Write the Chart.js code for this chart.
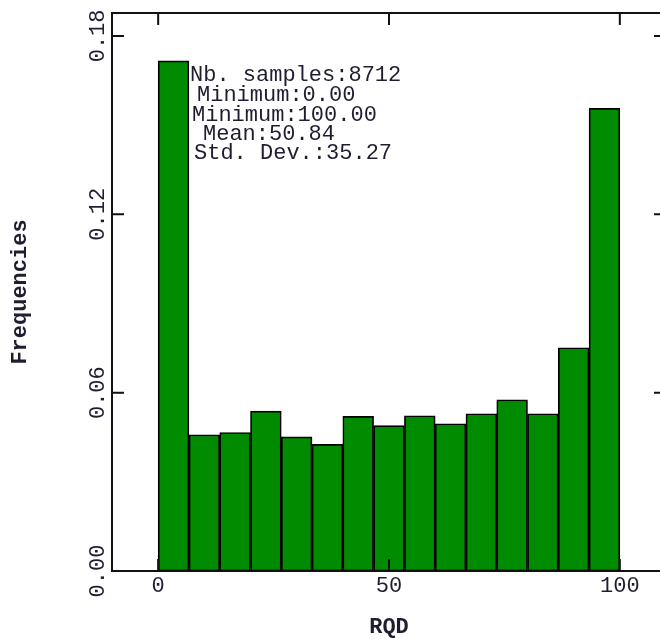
<!DOCTYPE html>
<html>
<head>
<meta charset="utf-8">
<script src="https://cdn.jsdelivr.net/npm/chart.js@4"></script>
<style>
  html, body { margin: 0; padding: 0; background: #fff; overflow: hidden; }
  #wrap { width: 670px; height: 639px; }
</style>
</head>
<body>
<div id="wrap"><canvas id="histo" width="670" height="639"></canvas></div>
<script>
// histogram bins (RQD, 15 classes of width 6.67) and frequencies
var binCenters = [3.33, 10, 16.67, 23.33, 30, 36.67, 43.33, 50, 56.67, 63.33, 70, 76.67, 83.33, 90, 96.67];
var frequencies = [0.1716, 0.0458, 0.0466, 0.0538, 0.0451, 0.0426, 0.0520, 0.0489, 0.0522, 0.0495, 0.0529, 0.0576, 0.0529, 0.0751, 0.1556];

var xTicks = [0, 50, 100];
var yTicks = [0, 0.06, 0.12, 0.18];

var statLines = ["Nb. samples:8712", "Minimum:0.00", "Minimum:100.00", "Mean:50.84", "Std. Dev.:35.27"];

var monoFont = "'Liberation Mono', 'DejaVu Sans Mono', monospace";
var textColor = "#1e1e30";

// frame with inward ticks, y tick labels and the stats box
var framePlugin = {
  id: "frame",
  afterDatasetsDraw: function (chart) {
    var ctx = chart.ctx;
    var a = chart.chartArea;
    var xs = chart.scales.x, ys = chart.scales.y;
    var tl = 12;
    ctx.save();
    ctx.strokeStyle = "#111";
    ctx.lineWidth = 2;
    ctx.strokeRect(a.left, a.top, a.right - a.left, a.bottom - a.top);
    ctx.beginPath();
    xTicks.forEach(function (v) {
      var px = xs.getPixelForValue(v);
      ctx.moveTo(px, a.bottom); ctx.lineTo(px, a.bottom - tl);
      ctx.moveTo(px, a.top); ctx.lineTo(px, a.top + tl);
    });
    yTicks.forEach(function (v) {
      var py = ys.getPixelForValue(v);
      ctx.moveTo(a.left, py); ctx.lineTo(a.left + tl, py);
      ctx.moveTo(a.right, py); ctx.lineTo(a.right - tl, py);
    });
    ctx.stroke();

    // y tick labels, rotated
    ctx.fillStyle = textColor;
    ctx.font = "22px " + monoFont;
    ctx.textAlign = "center";
    ctx.textBaseline = "middle";
    ys.ticks.forEach(function (t) {
      var py = ys.getPixelForValue(t.value);
      ctx.save();
      ctx.translate(a.left - 14, py);
      ctx.rotate(-Math.PI / 2);
      ctx.fillText(t.value.toFixed(2), 0, 0);
      ctx.restore();
    });

    // statistics
    ctx.textAlign = "left";
    ctx.textBaseline = "alphabetic";
    var offs = [190, 197, 192, 203, 194];
    var base = [81, 101, 121, 140, 159];
    statLines.forEach(function (s, i) {
      ctx.fillText(s, offs[i], base[i]);
    });
    ctx.restore();
  }
};

new Chart("histo", {
  type: "bar",
  data: {
    datasets: [{
      data: binCenters.map(function (c, i) { return {x: c, y: frequencies[i]}; }),
      backgroundColor: "#008b00",
      borderColor: "#000",
      borderWidth: 1.7,
      borderSkipped: false,
      barPercentage: 1,
      categoryPercentage: 1
    }]
  },
  options: {
    responsive: false,
    animation: false,
    devicePixelRatio: 1,
    layout: {padding: {top: 13, right: 4, left: 0, bottom: 0}},
    plugins: {legend: {display: false}, tooltip: {enabled: false}},
    scales: {
      x: {
        type: "linear",
        min: -10,
        max: 110,
        offset: false,
        grid: {display: false, offset: false},
        border: {display: false},
        afterBuildTicks: function (s) { s.ticks = xTicks.map(function (v) { return {value: v}; }); },
        afterFit: function (s) { s.height = 68; },
        ticks: {color: textColor, font: {family: monoFont, size: 22}, padding: -6,
          callback: function (v) { return String(v); }},
        title: {display: true, text: "RQD", color: textColor,
          font: {family: monoFont, size: 22, weight: "bold"}, padding: {top: 0, bottom: -2}}
      },
      y: {
        min: 0,
        max: 0.1877,
        grid: {display: false},
        border: {display: false},
        afterBuildTicks: function (s) { s.ticks = yTicks.map(function (v) { return {value: v}; }); },
        afterFit: function (s) { s.width = 112; },
        ticks: {display: false},
        title: {display: true, text: "Frequencies", color: textColor,
          font: {family: monoFont, size: 22, weight: "bold"}, padding: {top: 7, bottom: 0}}
      }
    }
  },
  plugins: [framePlugin]
});
</script>
</body>
</html>
